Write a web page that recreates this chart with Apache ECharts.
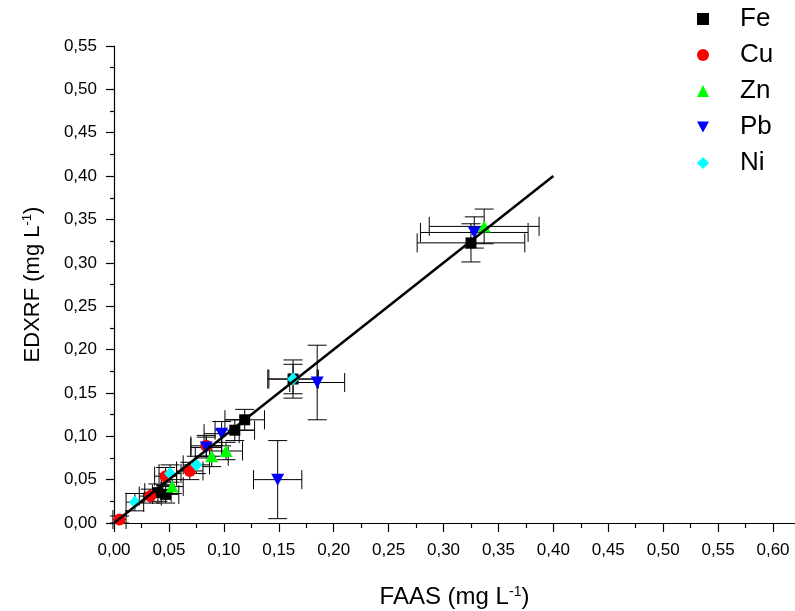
<!DOCTYPE html>
<html><head><meta charset="utf-8">
<script src="https://cdn.jsdelivr.net/npm/echarts@6/dist/echarts.min.js"></script>
<style>html,body{margin:0;padding:0;background:#fff}#c{width:795px;height:611px}</style>
</head><body><div id="c"></div>
<script>
// ---- data ----
const elements = ['Fe', 'Cu', 'Zn', 'Pb', 'Ni'];
const feX = [0.040, 0.047, 0.110, 0.119, 0.163, 0.325];
const feY = [0.035, 0.033, 0.107, 0.119, 0.166, 0.323];
const feXErr = [0.012, 0.012, 0.018, 0.018, 0.022, 0.049];
const feYErr = [0.010, 0.010, 0.012, 0.012, 0.017, 0.022];

const cuX = [0.005, 0.033, 0.047, 0.069, 0.084];
const cuY = [0.004, 0.031, 0.054, 0.060, 0.089];
const cuXErr = [0.006, 0.010, 0.010, 0.012, 0.014];
const cuYErr = [0.004, 0.008, 0.010, 0.010, 0.012];

const znX = [0.053, 0.089, 0.102, 0.337];
const znY = [0.042, 0.077, 0.083, 0.342];
const znXErr = [0.010, 0.015, 0.015, 0.050];
const znYErr = [0.008, 0.012, 0.010, 0.020];

const pbX = [0.084, 0.098, 0.149, 0.185, 0.328];
const pbY = [0.087, 0.103, 0.050, 0.162, 0.335];
const pbXErr = [0.014, 0.016, 0.022, 0.025, 0.049];
const pbYErr = [0.012, 0.014, 0.045, 0.043, 0.018];

const niX = [0.019, 0.051, 0.075, 0.163];
const niY = [0.024, 0.057, 0.067, 0.166];
const niXErr = [0.008, 0.010, 0.012, 0.023];
const niYErr = [0.010, 0.010, 0.010, 0.022];

const fitX = [0, 0.40];
const fitY = [0, 0.40];

const xTickLabels = [0, 0.05, 0.10, 0.15, 0.20, 0.25, 0.30, 0.35, 0.40, 0.45, 0.50, 0.55, 0.60];
const xMinorTicks = [0.025, 0.075, 0.125, 0.175, 0.225, 0.275, 0.325, 0.375, 0.425, 0.475, 0.525, 0.575];
const yTickLabels = [0, 0.05, 0.10, 0.15, 0.20, 0.25, 0.30, 0.35, 0.40, 0.45, 0.50, 0.55];
const yMinorTicks = [0.025, 0.075, 0.125, 0.175, 0.225, 0.275, 0.325, 0.375, 0.425, 0.475, 0.525];

// ---- build ----
const sets = [
  {name: 'Fe', x: feX, y: feY, ex: feXErr, ey: feYErr, color: '#000000', symbol: 'rect', size: 11},
  {name: 'Cu', x: cuX, y: cuY, ex: cuXErr, ey: cuYErr, color: '#ff0000', symbol: 'circle', size: 12},
  {name: 'Zn', x: znX, y: znY, ex: znXErr, ey: znYErr, color: '#00ff00', symbol: 'triangle', size: [13, 12]},
  {name: 'Pb', x: pbX, y: pbY, ex: pbXErr, ey: pbYErr, color: '#0000ff', symbol: 'path://M0,0L20,0L10,18Z', size: [13, 12]},
  {name: 'Ni', x: niX, y: niY, ex: niXErr, ey: niYErr, color: '#00ffff', symbol: 'diamond', size: [12, 13]}
];
const fmt = v => v.toFixed(2).replace('.', ',');
const FONT = "'Liberation Sans', Arial, sans-serif";

function errRender(params, api) {
  const x = api.value(0), y = api.value(1), ex = api.value(2), ey = api.value(3);
  const c = api.coord([x, y]);
  const l = api.coord([x - ex, y]), r = api.coord([x + ex, y]);
  const t = api.coord([x, y + ey]), b = api.coord([x, y - ey]);
  const h = 9.5;
  const style = {stroke: '#000', lineWidth: 1};
  const ln = (x1, y1, x2, y2) => ({type: 'line', shape: {x1, y1, x2, y2}, style});
  return {type: 'group', children: [
    ln(l[0], c[1], r[0], c[1]),
    ln(l[0], c[1] - h, l[0], c[1] + h),
    ln(r[0], c[1] - h, r[0], c[1] + h),
    ln(c[0], t[1], c[0], b[1]),
    ln(c[0] - h, t[1], c[0] + h, t[1]),
    ln(c[0] - h, b[1], c[0] + h, b[1])
  ]};
}

const series = [];
sets.forEach(s => {
  series.push({
    type: 'custom', name: s.name + '_err', renderItem: errRender,
    encode: {x: 0, y: 1}, z: 2, silent: true,
    data: s.x.map((v, i) => [v, s.y[i], s.ex[i], s.ey[i]])
  });
});
sets.forEach(s => {
  series.push({
    type: 'scatter', name: s.name, symbol: s.symbol, symbolSize: s.size,
    itemStyle: {color: s.color, opacity: 1}, z: 3,
    data: s.x.map((v, i) => [v, s.y[i]])
  });
});
series.push({
  type: 'line', name: 'fit', data: fitX.map((v, i) => [v, fitY[i]]),
  showSymbol: false, symbol: 'none', lineStyle: {color: '#000', width: 2.5}, z: 4, silent: true
});

const option = {
  animation: false,
  backgroundColor: '#fff',
  grid: {left: 114, right: 0, top: 46, bottom: 88, containLabel: false, outerBoundsMode: 'none'},
  legend: {
    data: elements.map((n, i) => ({name: n, icon: sets[i].symbol})),
    orient: 'vertical', left: 692, top: 1,
    itemWidth: 12, itemHeight: 12, itemGap: 10,
    textStyle: {fontFamily: FONT, fontSize: 26, color: '#000', lineHeight: 26, padding: [0, 0, 0, 26]}
  },
  xAxis: [{
    type: 'value', min: 0, max: 0.62,
    name: '{a|FAAS (mg L}{s|-1}{a|)}', nameLocation: 'middle', nameGap: 62,
    nameTextStyle: {rich: {
      a: {fontFamily: FONT, fontSize: 24, color: '#000'},
      s: {fontFamily: FONT, fontSize: 14, color: '#000', verticalAlign: 'top', padding: [0, 0, 11, 0]}
    }},
    axisLine: {show: true, onZero: false, lineStyle: {color: '#000', width: 1.2}},
    axisTick: {show: true, customValues: xTickLabels, length: 9, lineStyle: {color: '#000', width: 1.2}},
    axisLabel: {customValues: xTickLabels, formatter: fmt, fontFamily: FONT, fontSize: 17, color: '#000', margin: 19},
    splitLine: {show: false}
  }, {
    type: 'value', min: 0, max: 0.62, position: 'bottom',
    axisLine: {show: false},
    axisTick: {show: true, customValues: xMinorTicks, length: 5, lineStyle: {color: '#000', width: 1.2}},
    axisLabel: {show: false}, splitLine: {show: false}
  }],
  yAxis: [{
    type: 'value', min: 0, max: 0.55,
    name: '{a|EDXRF (mg L}{s|-1}{a|)}', nameLocation: 'middle', nameGap: 70, nameRotate: 90,
    nameTextStyle: {rich: {
      a: {fontFamily: FONT, fontSize: 22, color: '#000'},
      s: {fontFamily: FONT, fontSize: 13, color: '#000', verticalAlign: 'top', padding: [0, 0, 10, 0]}
    }},
    axisLine: {show: true, onZero: false, lineStyle: {color: '#000', width: 1.2}},
    axisTick: {show: true, customValues: yTickLabels, length: 8, lineStyle: {color: '#000', width: 1.2}},
    axisLabel: {customValues: yTickLabels, formatter: fmt, fontFamily: FONT, fontSize: 17, color: '#000', margin: 17},
    splitLine: {show: false}
  }, {
    type: 'value', min: 0, max: 0.55, position: 'left',
    axisLine: {show: false},
    axisTick: {show: true, customValues: yMinorTicks, length: 4, lineStyle: {color: '#000', width: 1.2}},
    axisLabel: {show: false}, splitLine: {show: false}
  }],
  series: series
};
const chart = echarts.init(document.getElementById('c'), null, {renderer: 'canvas'});
chart.setOption(option);
</script></body></html>
